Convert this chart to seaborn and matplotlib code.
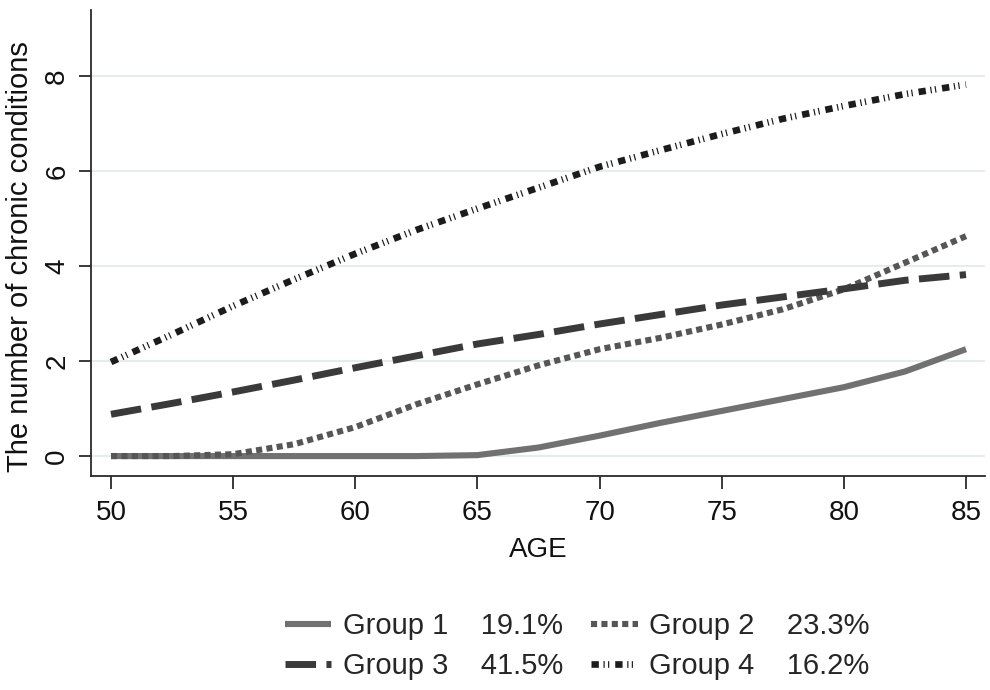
import matplotlib
matplotlib.use("Agg")
import matplotlib.pyplot as plt
import pandas as pd
import seaborn as sns

# Predicted number of chronic conditions by age for each trajectory group
ages = [50, 52.5, 55, 57.5, 60, 62.5, 65, 67.5, 70, 72.5, 75, 77.5, 80, 82.5, 85]
group1 = [0.0, 0.0, 0.0, 0.0, 0.0, 0.0, 0.02, 0.18, 0.43, 0.70, 0.95, 1.20, 1.45, 1.78, 2.25]
group2 = [0.0, 0.0, 0.04, 0.25, 0.61, 1.09, 1.51, 1.91, 2.25, 2.49, 2.77, 3.09, 3.51, 4.07, 4.63]
group3 = [0.88, 1.11, 1.35, 1.60, 1.86, 2.11, 2.36, 2.56, 2.78, 2.98, 3.18, 3.35, 3.52, 3.70, 3.82]
group4 = [1.98, 2.56, 3.16, 3.72, 4.26, 4.76, 5.21, 5.65, 6.09, 6.44, 6.78, 7.10, 7.37, 7.62, 7.82]

group_names = ["Group 1", "Group 2", "Group 3", "Group 4"]
group_shares = ["19.1%", "23.3%", "41.5%", "16.2%"]

x_ticks = [50, 55, 60, 65, 70, 75, 80, 85]
y_ticks = [0, 2, 4, 6, 8]

sns.set_theme(style="white")
plt.rcParams["font.family"] = ["Liberation Sans", "DejaVu Sans"]

fig = plt.figure(figsize=(9.9, 6.9), dpi=100)
ax = fig.add_axes([0.0919, 0.3101, 0.9031, 0.6754])

series = [group1, group2, group3, group4]
styles = [
    dict(color="#717171", lw=4.4, ls="-"),
    dict(color="#565656", lw=4.4, ls=(0, (1.0, 0.7))),
    dict(color="#3a3a3a", lw=5.0, ls=(0, (4.4, 1.5))),
    dict(color="#1c1c1c", lw=4.8, ls=(0, (1.1, 0.7, 0.18, 0.5, 0.18, 0.9))),
]

for name, vals, st in zip(group_names, series, styles):
    df = pd.DataFrame({"age": ages, "value": vals})
    sns.lineplot(data=df, x="age", y="value", ax=ax, color=st["color"],
                 linewidth=st["lw"], linestyle=st["ls"], legend=False,
                 solid_capstyle="butt", dash_capstyle="butt")

ax.set_xlim(49.18, 85.78)
ax.set_ylim(-0.42, 9.39)
ax.set_xticks(x_ticks)
ax.set_yticks(y_ticks)
ax.grid(axis="y", color="#e6eced", linewidth=1.4)
ax.grid(axis="x", visible=False)
ax.set_axisbelow(True)

for side in ["top", "right"]:
    ax.spines[side].set_visible(False)
for side in ["left", "bottom"]:
    ax.spines[side].set_color("#2a2a2a")
    ax.spines[side].set_linewidth(1.3)

ax.tick_params(axis="both", which="major", length=9, width=1.3, color="#2a2a2a",
               labelsize=20, labelcolor="#111111", direction="out")
ax.tick_params(axis="x", pad=8, bottom=True)
ax.tick_params(axis="y", pad=6, left=True)
for lbl in ax.get_yticklabels():
    lbl.set_rotation(90)
    lbl.set_va("center")

ax.set_xlabel("AGE", fontsize=20, color="#111111", labelpad=8)
ax.set_ylabel("The number of chronic conditions", fontsize=21, color="#111111")
ax.yaxis.set_label_coords(-0.064, 0.47)

# Legend reads row-wise: Group 1, Group 2 / Group 3, Group 4
lines = ax.get_lines()[:4]
labels = [f"{n}    {s}" for n, s in zip(group_names, group_shares)]
order = [0, 2, 1, 3]
fig.legend([lines[i] for i in order], [labels[i] for i in order],
           loc="center", bbox_to_anchor=(0.583, 0.064),
           ncol=2, frameon=False, fontsize=21, handlelength=1.6,
           handletextpad=0.4, columnspacing=0.95, labelspacing=0.42,
           borderaxespad=0)

fig.savefig("out.png", dpi=100, facecolor="white")
